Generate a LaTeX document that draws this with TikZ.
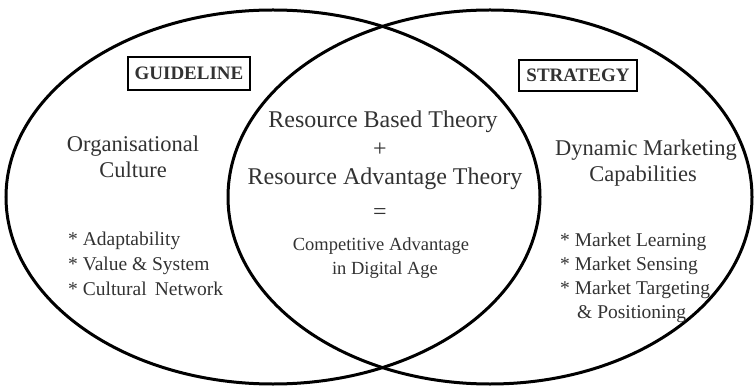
\documentclass[tikz,border=0pt]{standalone}
\usepackage{fontspec}
\setmainfont{Liberation Serif}
\definecolor{txtgray}{RGB}{50,50,50}
\begin{document}
\begin{tikzpicture}[x=1pt,y=-1pt,
  ring/.style={line width=3pt, draw=black},
  txt/.style={text=txtgray, inner sep=0pt, anchor=base},
  lefttxt/.style={text=txtgray, inner sep=0pt, anchor=base west},
  big/.style={font=\fontsize{22.5}{26}\selectfont},
  center/.style={font=\fontsize{24}{28}\selectfont},
  small/.style={font=\fontsize{18.5}{22}\selectfont},
  bullet/.style={font=\fontsize{19.5}{23}\selectfont},
  labbox/.style={draw=black, line width=1.7pt, text=txtgray, inner sep=0pt,
    font=\fontsize{19}{22}\selectfont\bfseries}]
\useasboundingbox (0,0) rectangle (754,387);
\draw[ring] (273,197) ellipse [x radius=267, y radius=187];
\draw[ring] (490,197) ellipse [x radius=262, y radius=187];

\node[labbox, minimum width=122, minimum height=33] (guide) at (189,73.5) {GUIDELINE};
\node[labbox, minimum width=118, minimum height=31] (strat) at (578,75.5) {STRATEGY};

\node[txt, big] (org1) at (133,152) {Organisational};
\node[txt, big] (org2) at (133,178) {Culture};

\node[lefttxt, bullet] (lb1) at (68,245) {* Adaptability};
\node[lefttxt, bullet] (lb2) at (68,270) {* Value \& System};
\node[lefttxt, bullet] (lb3) at (68,295) {* Cultural\, Network};

\node[txt, center] (rbt) at (383,128) {Resource Based Theory};
\node[txt, center] (plus) at (380,157) {+};
\node[txt, center] (rat) at (385,185) {Resource Advantage Theory};
\node[txt, center] (eq) at (380,220) {=};
\node[txt, small] (ca1) at (381,250) {Competitive Advantage};
\node[txt, small] (ca2) at (385,274) {in Digital Age};

\node[txt, big] (dm1) at (646,156) {Dynamic Marketing};
\node[txt, big] (dm2) at (643,182) {Capabilities};

\node[lefttxt, bullet] (rb1) at (560,246) {* Market Learning};
\node[lefttxt, bullet] (rb2) at (560,270) {* Market Sensing};
\node[lefttxt, bullet] (rb3) at (560,294) {* Market Targeting};
\node[lefttxt, bullet] (rb4) at (577,318) {\& Positioning};
\end{tikzpicture}
\end{document}
